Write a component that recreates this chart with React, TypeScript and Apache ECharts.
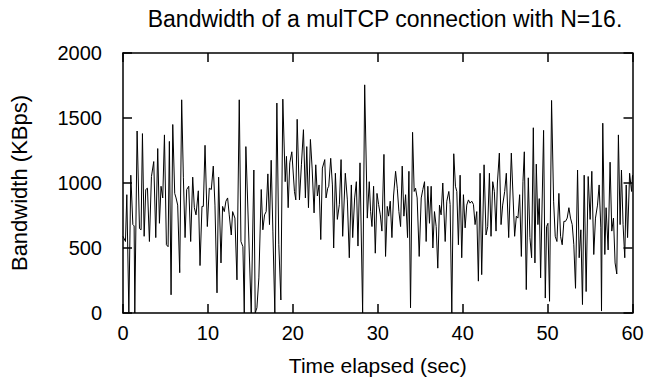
import React, { useEffect, useRef } from "react";
import * as echarts from "echarts";

// Time elapsed (sec) and bandwidth (KBps) in four stretches
const timeA = [0, 0.29, 0.45, 0.69, 0.92, 1.16, 1.31, 1.39, 1.66, 1.94, 2.13, 2.29, 2.49, 2.68, 2.88, 3.11, 3.35, 3.62, 3.86, 4.09, 4.29, 4.48, 4.68, 4.88, 5.11, 5.31, 5.46, 5.66, 5.86, 6.09, 6.25, 6.44, 6.68, 6.91, 7.11, 7.31, 7.5, 7.74, 7.97, 8.21, 8.4, 8.6, 8.87, 9.07, 9.3, 9.46, 9.66, 9.93, 10.16, 10.4, 10.63, 10.83, 11.07, 11.26, 11.54, 11.73, 11.93, 12.12, 12.32, 12.51, 12.75, 12.91, 13.18, 13.42, 13.69, 13.89, 14.12, 14.28, 14.47];
const bwA = [590, 550, 910, 0, 1060, 680, 670, 0, 1400, 650, 640, 1380, 590, 950, 960, 550, 1050, 1165, 580, 1265, 690, 975, 885, 1370, 525, 510, 1320, 140, 1450, 920, 885, 830, 310, 1640, 1040, 580, 950, 975, 550, 1045, 810, 755, 940, 365, 820, 820, 1290, 665, 960, 950, 1130, 830, 155, 1045, 385, 820, 780, 860, 885, 755, 600, 780, 730, 255, 1640, 550, 510, 0, 1280];

const timeB = [15.1, 15.41, 15.57, 15.77, 16.0, 16.28, 16.47, 16.67, 16.86, 17.06, 17.25, 17.45, 17.65, 17.88, 18.12, 18.35, 18.59, 18.82, 19.1, 19.25, 19.45, 19.64, 19.88, 20.19, 20.35, 20.51, 20.78, 21.01, 21.25, 21.48, 21.64, 21.84, 22.07, 22.27, 22.5, 22.7, 22.89, 23.09, 23.29, 23.48, 23.76, 23.91, 24.11, 24.23, 24.46, 24.66, 24.81, 25.01, 25.24, 25.48, 25.68, 25.87, 26.18, 26.42, 26.65, 26.89, 27.05, 27.28, 27.48, 27.67, 27.91, 28.22, 28.46, 28.77, 29.0, 29.16, 29.32, 29.51, 29.71];
const bwB = [0, 1100, 0, 40, 270, 950, 640, 755, 780, 1070, 680, 1175, 630, 0, 1615, 525, 100, 1645, 1010, 1205, 810, 1155, 1240, 935, 870, 1490, 870, 1140, 1410, 885, 1280, 810, 1335, 1115, 770, 1140, 900, 985, 565, 1115, 1180, 885, 960, 975, 1190, 985, 500, 1075, 720, 835, 1180, 590, 1075, 870, 425, 985, 580, 885, 1010, 515, 1155, 0, 1755, 730, 1010, 780, 665, 975, 460];

const timeC = [29.91, 30.1, 30.3, 30.49, 30.73, 30.92, 31.12, 31.28, 31.47, 31.67, 31.86, 32.1, 32.3, 32.49, 32.69, 32.88, 33.08, 33.28, 33.51, 33.67, 33.86, 34.1, 34.29, 34.45, 34.64, 34.88, 35.12, 35.31, 35.51, 35.7, 35.9, 36.09, 36.29, 36.49, 36.68, 36.88, 37.07, 37.27, 37.46, 37.66, 37.94, 38.13, 38.37, 38.52, 38.72, 38.95, 39.15, 39.31, 39.5, 39.7, 39.89, 40.09, 40.29, 40.48, 40.68, 40.87, 41.07, 41.27, 41.46, 41.66, 41.85, 42.05, 42.24, 42.52, 42.75, 42.95, 43.15, 43.34, 43.54, 43.73, 43.93, 44.09, 44.32, 44.52, 44.71];
const bwC = [920, 835, 755, 630, 1220, 435, 820, 745, 860, 580, 900, 1090, 960, 780, 665, 1130, 745, 910, 580, 1090, 40, 1390, 935, 960, 885, 435, 885, 950, 1010, 550, 975, 690, 975, 500, 780, 665, 345, 830, 755, 1000, 550, 860, 935, 835, 0, 1225, 975, 935, 525, 1060, 425, 910, 655, 830, 870, 845, 860, 835, 680, 780, 245, 1075, 295, 1140, 600, 665, 1075, 590, 1010, 935, 630, 1000, 1230, 680, 830];

const timeD = [44.95, 45.14, 45.42, 45.73, 45.93, 46.12, 46.32, 46.51, 46.71, 46.91, 47.1, 47.26, 47.49, 47.73, 47.92, 48.12, 48.32, 48.51, 48.67, 48.86, 49.02, 49.18, 49.53, 49.73, 49.88, 50.04, 50.23, 50.47, 50.71, 50.9, 51.1, 51.33, 51.53, 51.72, 51.92, 52.11, 52.31, 52.51, 52.7, 52.9, 53.09, 53.29, 53.53, 53.72, 53.92, 54.11, 54.31, 54.54, 54.78, 55.01, 55.21, 55.44, 55.64, 55.88, 56.07, 56.27, 56.35, 56.5, 56.74, 56.89, 57.13, 57.36, 57.56, 57.76, 57.95, 58.15, 58.34, 58.54, 58.7, 58.89, 59.09, 59.26, 59.42, 59.66, 59.89, 60.0];
const bwD = [935, 1075, 580, 1230, 900, 590, 745, 730, 910, 435, 1010, 1240, 180, 1040, 580, 425, 1425, 385, 1145, 680, 880, 270, 1405, 115, 665, 690, 90, 1635, 860, 590, 550, 920, 590, 525, 705, 705, 730, 810, 730, 680, 525, 190, 1100, 425, 640, 65, 1060, 165, 1050, 720, 1090, 450, 730, 830, 985, 655, 15, 1460, 450, 810, 485, 1160, 630, 730, 385, 300, 1370, 680, 1100, 680, 425, 985, 580, 1075, 935, 1060];

const timeSec = [...timeA, ...timeB, ...timeC, ...timeD];
const bandwidthKBps = [...bwA, ...bwB, ...bwC, ...bwD];

const X_MIN = 0, X_MAX = 60, X_STEP = 10;
const Y_MIN = 0, Y_MAX = 2000, Y_STEP = 500;

const TITLE = "Bandwidth of a mulTCP connection with N=16.";
const X_NAME = "Time elapsed (sec)";
const Y_NAME = "Bandwidth (KBps)";

export default function App() {
  const ref = useRef<HTMLDivElement>(null);
  useEffect(() => {
    document.body.style.margin = "0";
    const chart = echarts.init(ref.current!, null, { renderer: "svg" });
    const font = "Liberation Sans";
    const line = { show: true, onZero: false, lineStyle: { color: "#000", width: 1.5 } };
    const tick = { show: true, inside: true, length: 9, lineStyle: { color: "#000", width: 1.5 } };
    const data = timeSec.map((t, i) => [t, bandwidthKBps[i]]);
    const plain = (v: number) => String(v);
    chart.setOption({
      animation: false,
      backgroundColor: "#fff",
      title: {
        text: TITLE,
        left: 380,
        top: 2,
        textAlign: "center",
        textStyle: { fontFamily: font, fontSize: 23, fontWeight: "normal", color: "#000" },
      },
      grid: { left: 122, right: 15.5, top: 53, bottom: 67.5, containLabel: false },
      xAxis: [
        {
          type: "value", min: X_MIN, max: X_MAX, interval: X_STEP, position: "bottom",
          name: X_NAME, nameLocation: "middle", nameGap: 42,
          nameTextStyle: { fontFamily: font, fontSize: 21, color: "#000" },
          axisLine: line, axisTick: tick, splitLine: { show: false },
          axisLabel: { fontFamily: font, fontSize: 20, color: "#000", margin: 10, formatter: plain },
        },
        {
          type: "value", min: X_MIN, max: X_MAX, interval: X_STEP, position: "top",
          axisLine: line, axisTick: tick, splitLine: { show: false }, axisLabel: { show: false },
        },
      ],
      yAxis: [
        {
          type: "value", min: Y_MIN, max: Y_MAX, interval: Y_STEP, position: "left",
          name: Y_NAME, nameLocation: "middle", nameGap: 93, nameRotate: 90,
          nameTextStyle: { fontFamily: font, fontSize: 22, color: "#000" },
          axisLine: line, axisTick: tick, splitLine: { show: false },
          axisLabel: { fontFamily: font, fontSize: 20, color: "#000", margin: 21, formatter: plain },
        },
        {
          type: "value", min: Y_MIN, max: Y_MAX, interval: Y_STEP, position: "right",
          axisLine: line, axisTick: tick, splitLine: { show: false }, axisLabel: { show: false },
        },
      ],
      series: [
        {
          type: "line", xAxisIndex: 0, yAxisIndex: 0, data,
          showSymbol: false, symbol: "none",
          lineStyle: { color: "#000", width: 1 },
        },
      ],
    });
    return () => chart.dispose();
  }, []);
  return <div ref={ref} style={{ width: 648, height: 381 }} />;
}
